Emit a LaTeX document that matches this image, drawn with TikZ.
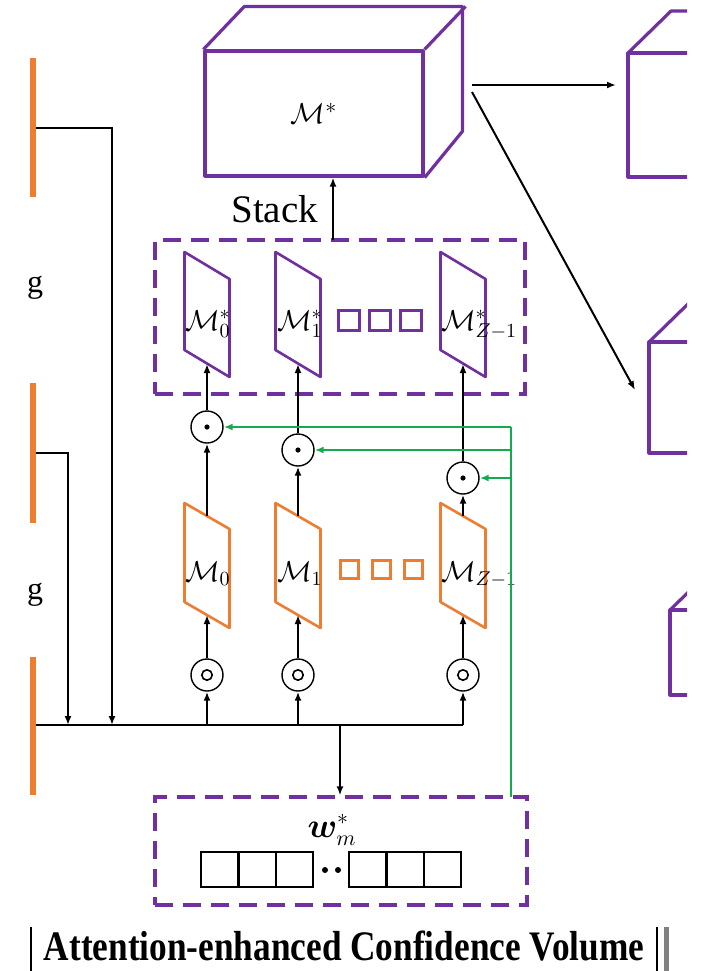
\documentclass[tikz,border=0pt]{standalone}
\usepackage{fontspec}
\setmainfont{Liberation Serif}
\usepackage{bm}
\usetikzlibrary{arrows.meta}
\definecolor{vpurple}{RGB}{112,48,160}
\definecolor{vorange}{RGB}{237,125,49}
\definecolor{vgreen}{RGB}{20,170,80}

\begin{document}
\begin{tikzpicture}[x=0.5pt,y=-0.5pt,line width=1pt,
  >={Latex[length=4.5pt,width=3.5pt]},
  cube/.style={draw=vpurple,line width=1.6pt,line join=round},
  slabp/.style={draw=vpurple,line width=1.3pt,line join=round},
  slabo/.style={draw=vorange,line width=1.3pt,line join=round},
  group/.style={draw=vpurple,line width=1.6pt,dash pattern=on 9pt off 5pt},
  opnode/.style={circle,draw,line width=0.7pt,minimum size=16pt,inner sep=0pt},
  mul/.style={opnode,path picture={\fill (path picture bounding box.center) circle (1.3pt);}},
  conv/.style={opnode,path picture={\draw[line width=0.8pt] (path picture bounding box.center) circle (2.6pt);}},
  lbl/.style={font=\fontsize{14}{14}\selectfont,inner sep=0pt}]
\useasboundingbox (0,0) rectangle (703,971);

% stacked volume
\node[cube,minimum width=109pt,minimum height=62.5pt,inner sep=0pt,
  font=\fontsize{15}{15}\selectfont] (mstar) at (314,113.5) {$\mathcal{M}^{*}$};
\draw[cube] (mstar.north west) -- ++(41,-43) -- ++(218,0) -- ++(0,125) -- (mstar.south east);
\draw[cube] (mstar.north east) -- ++(41,-43);

% volumes on the right, cut by the page edge
\begin{scope}
\clip (0,0) rectangle (687,971);
\draw[cube] (628,53) rectangle (720,177);
\draw[cube] (628,53) -- ++(43,-42) -- ++(60,0);
\draw[cube] (649,342) rectangle (720,453);
\draw[cube] (649,342) -- ++(43,-42);
\draw[cube] (670,610) rectangle (720,695);
\draw[cube] (670,610) -- ++(43,-42);
\end{scope}
\coordinate (mout1) at (472,85);
\coordinate (mout2) at (472,92);
\coordinate (r1) at (616,85);
\coordinate (r2) at (635,390);
\draw[->] (mout1) -- (r1);
\draw[->] (mout2) -- (r2);

% group of weighted slices
\node[group,minimum width=185pt,minimum height=77pt] (stackbox) at (340,317) {};
\coordinate (stk) at (333,240);
\draw[->] (stk) -- (stk |- mstar.south);
\node[anchor=base east,inner sep=0pt,font=\fontsize{19.5}{20}\selectfont] (stacklbl) at (319,222) {Stack};

% slices, products and convolutions per column
\foreach \i/\c/\my in {0/207/427,1/298/450,2/463/478} {
  \draw[slabp] (\c-22.5,252) -- (\c+22.5,279) -- (\c+22.5,377) -- (\c-22.5,350) -- cycle;
  \draw[slabo] (\c-22.5,503) -- (\c+22.5,529) -- (\c+22.5,628) -- (\c-22.5,602) -- cycle;
  \coordinate (p\i b) at (\c,364);
  \coordinate (o\i t) at (\c,516);
  \coordinate (o\i b) at (\c,615);
  \coordinate (b\i) at (\c,725);
  \node[mul] (m\i) at (\c,\my) {};
  \node[conv] (c\i) at (\c,675) {};
  \draw[->] (b\i) -- (c\i);
  \draw[->] (c\i) -- (o\i b);
  \draw[->] (o\i t) -- (m\i);
  \draw[->] (m\i) -- (p\i b);
}
\node[lbl,anchor=base west] (ms0) at (184,330) {$\mathcal{M}^{*}_{0}$};
\node[lbl,anchor=base west] (ms1) at (276,330) {$\mathcal{M}^{*}_{1}$};
\node[lbl,anchor=base west] (ms2) at (440,330) {$\mathcal{M}^{*}_{Z-1}$};
\node[lbl,anchor=base west] (mo0) at (184,581) {$\mathcal{M}_{0}$};
\node[lbl,anchor=base west] (mo1) at (276,581) {$\mathcal{M}_{1}$};
\node[lbl,anchor=base west] (mo2) at (440,581) {$\mathcal{M}_{Z-1}$};
\foreach \x in {338,369,400}
  \draw[vpurple,line width=1.5pt] (\x,310) rectangle ++(21,20);
\foreach \x in {340,372,404}
  \draw[vorange,line width=1.5pt] (\x,560) rectangle ++(18,18);

% attention weights
\node[group,minimum width=186pt,minimum height=54pt] (wbox) at (341,851) {};
\node[inner sep=0pt,font=\fontsize{16}{16}\selectfont] (wlbl) at (332,830) {$\bm{w}^{*}_{m}$};
\foreach \x in {201,239,276,349,387,424}
  \draw (\x,852) rectangle ++(37,35);
\fill (325,870) circle (3) (338,870) circle (3);

\coordinate (gtop) at (511,427);
\coordinate (g1) at (511,450);
\coordinate (g2) at (511,478);
\coordinate (gbot) at (511,797);
\draw[vgreen] (gbot) -- (gtop);
\draw[vgreen,->] (gtop) -- (m0);
\draw[vgreen,->] (g1) -- (m1);
\draw[vgreen,->] (g2) -- (m2);

% features coming from the left
\fill[vorange] (30,58) rectangle (36,197);
\fill[vorange] (30,383) rectangle (36,523);
\fill[vorange] (30,657) rectangle (36,795);
\node[font=\fontsize{16}{16}\selectfont] (g1lbl) at (35,288) {g};
\node[font=\fontsize{16}{16}\selectfont] (g2lbl) at (35,595) {g};
\coordinate (f1) at (36,128);
\coordinate (f2) at (36,453);
\coordinate (f3) at (36,725);
\coordinate (j1) at (112,725);
\coordinate (j2) at (68,725);
\coordinate (split) at (340,725);
\draw[->] (f1) -| (j1);
\draw[->] (f2) -| (j2);
\draw (f3) -- (b2);
\draw[->] (split) -- (split |- wbox.north);

% caption row
\node[anchor=base,inner sep=0pt,font=\bfseries\fontsize{21}{21}\selectfont] (title) at (344,960)
  {\scalebox{0.84}[1]{Attention-enhanced Confidence Volume}};
\draw[line width=0.6pt] (31,927) -- (31,971);
\draw[line width=0.9pt] (657,927) -- (657,971);
\draw[gray,line width=2.5pt] (666,927) -- (666,971);
\end{tikzpicture}
\end{document}
